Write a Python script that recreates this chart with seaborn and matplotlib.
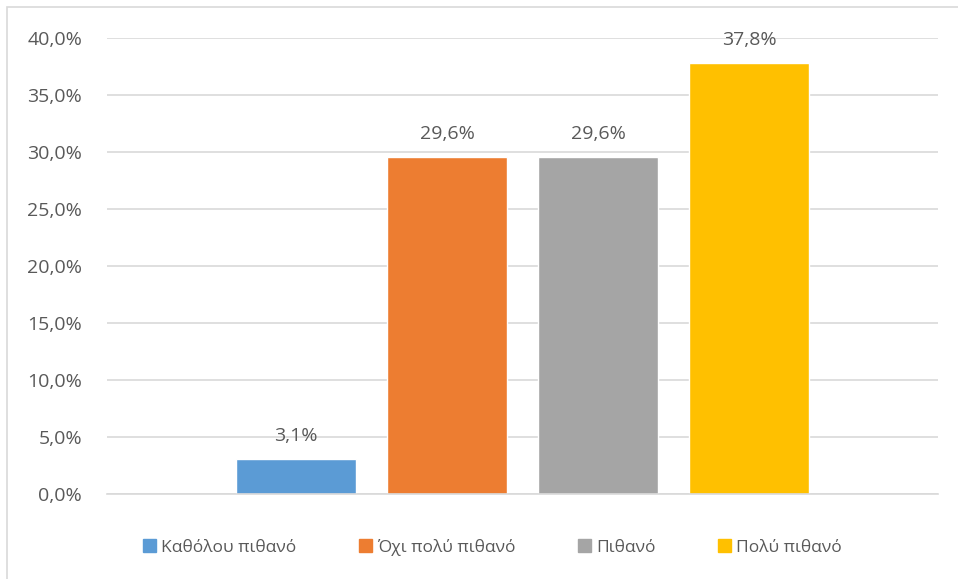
import matplotlib
matplotlib.use("Agg")
import matplotlib.pyplot as plt
import seaborn as sns
import pandas as pd
from matplotlib.patches import Rectangle
from matplotlib.ticker import FuncFormatter

categories = ["Καθόλου πιθανό", "Όχι πολύ πιθανό", "Πιθανό", "Πολύ πιθανό"]
values = [3.1, 29.6, 29.6, 37.8]
colors = ["#5B9BD5", "#ED7D31", "#A5A5A5", "#FFC000"]
yticks = [0, 5, 10, 15, 20, 25, 30, 35, 40]

sns.set_theme(style="white")
plt.rcParams['font.family'] = ['Open Sans', 'DejaVu Sans']
txt = "#595959"

fig = plt.figure(figsize=(9.58, 5.79), dpi=100)
ax = fig.add_axes([107/958, 1-494/579, (938-107)/958, (494-38)/579])

df = pd.DataFrame({"cat": categories, "val": values})
sns.barplot(data=df, x="cat", y="val", hue="cat", palette=colors,
            width=0.795, ax=ax, legend=False, saturation=1)

ax.set_xlim(-1.25, 4.25)
ax.set_ylim(0, 40)
ax.set_yticks(yticks)
ax.yaxis.set_major_formatter(FuncFormatter(lambda v, p: f"{v:.1f}%".replace(".", ",")))
ax.tick_params(axis="y", colors=txt, labelsize=14, length=0, pad=18)
ax.set_xticks([])
ax.set_xlabel("")
ax.set_ylabel("")
ax.grid(axis="y", color="#D9D9D9", linewidth=1.2)
ax.set_axisbelow(True)
for s in ["top", "right", "left"]:
    ax.spines[s].set_visible(False)
ax.spines["bottom"].set_color("#D9D9D9")
ax.spines["bottom"].set_linewidth(1.2)

for i, v in enumerate(values):
    ax.annotate(f"{v:.1f}%".replace(".", ","), (i, v), xytext=(0, 10),
                textcoords="offset points", ha="center", va="bottom",
                fontsize=14, color=txt)

handles = [Rectangle((0, 0), 1, 1, color=c) for c in colors]
fig.legend(handles, categories, loc="center", bbox_to_anchor=(0.514, 1-547/579),
           ncol=4, frameon=False, prop={'family': ['Open Sans', 'DejaVu Sans'], 'size': 12.5},
           labelcolor=txt, handlelength=0.75, handleheight=0.75, handletextpad=0.3,
           columnspacing=3.6)

fig.patches.append(Rectangle((7/958, -0.1), 1.2, 1-7/579+0.1, transform=fig.transFigure,
                             fill=False, edgecolor="#D9D9D9", linewidth=1.2))

fig.savefig("out.png", dpi=100)
